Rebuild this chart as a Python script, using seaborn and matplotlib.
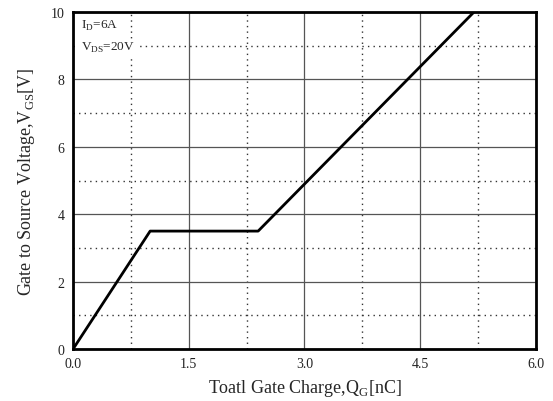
import matplotlib
matplotlib.use("Agg")
import matplotlib.pyplot as plt
import seaborn as sns
import pandas as pd
import numpy as np
from matplotlib.ticker import MultipleLocator

qg = [0.0, 1.0, 2.4, 5.2]
vgs = [0.0, 3.5, 3.5, 10.0]
x_ticks = [0.0, 1.5, 3.0, 4.5, 6.0]
x_tick_labels = ["0.0", "1.5", "3.0", "4.5", "6.0"]
y_ticks = [0, 2, 4, 6, 8, 10]

sns.set_style("white")
plt.rcParams['font.family'] = ['Liberation Serif', 'DejaVu Serif']
plt.rcParams['mathtext.fontset'] = 'custom'
plt.rcParams['mathtext.rm'] = 'Liberation Serif'

df = pd.DataFrame({"QG": qg, "VGS": vgs})

fig = plt.figure(figsize=(5.53, 4.02), dpi=100)
ax = fig.add_axes([0.132, 0.129, 0.837, 0.839])

ax.set_xlim(0, 6)
ax.set_ylim(0, 10)
ax.set_xticks(x_ticks)
ax.set_xticklabels(x_tick_labels)
ax.set_yticks(y_ticks)
ax.xaxis.set_minor_locator(MultipleLocator(0.75))
ax.yaxis.set_minor_locator(MultipleLocator(1))
ax.grid(which='major', color='#555555', linewidth=0.9, linestyle='-')
ax.grid(which='minor', color='#333333', linewidth=1.0, linestyle=(0, (1, 3)))
ax.set_axisbelow(True)

sns.lineplot(data=df, x="QG", y="VGS", ax=ax, color='black', linewidth=2.0, sort=False)

for s in ax.spines.values():
    s.set_color('black')
    s.set_linewidth(2.0)

ax.tick_params(which='both', length=0, labelsize=10, colors='#222222', pad=6)
ax.set_xlabel(r"Toatl Gate Charge,Q$_\mathrm{G}$[nC]", fontsize=13, labelpad=5)
ax.set_ylabel(r"Gate to Source Voltage,V$_\mathrm{GS}$[V]", fontsize=13, labelpad=10)

box = dict(facecolor='white', edgecolor='none', pad=1.0)
ax.text(0.1, 9.6, r"I$_\mathrm{D}$=6A", fontsize=9.5, ha='left', va='center', bbox=box)
ax.text(0.1, 8.95, r"V$_\mathrm{DS}$=20V", fontsize=9.5, ha='left', va='center', bbox=box)

fig.savefig("out.png", dpi=100)
